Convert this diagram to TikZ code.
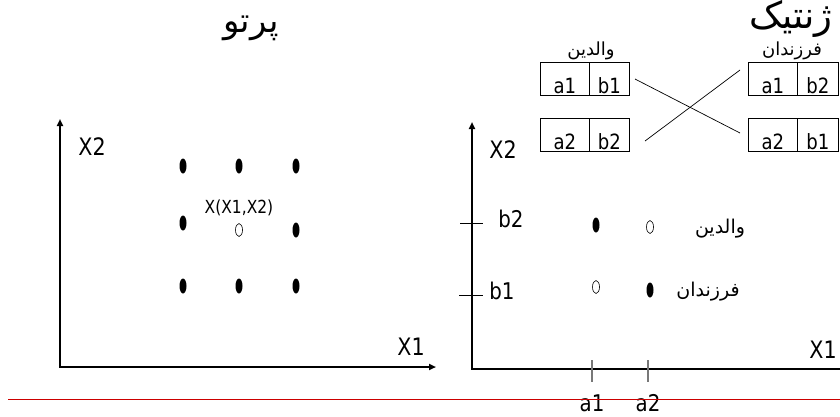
\documentclass[tikz,border=0pt]{standalone}
\usepackage{fontspec}
\setmainfont{DejaVu Sans}[FakeStretch=0.86]
\newfontfamily\arabicfont[Script=Arabic]{DejaVu Sans}
\TeXXeTstate=1
\usetikzlibrary{arrows.meta,shapes.geometric}
\definecolor{redline}{RGB}{204,0,0}
\definecolor{tickgray}{RGB}{120,120,120}
\tikzset{
  axisline/.style={line width=2pt, line join=miter, {Triangle[length=7pt,width=6pt]}-{Triangle[length=7pt,width=6pt]}},
  dotf/.style={ellipse, fill=black, minimum width=7pt, minimum height=15pt, inner sep=0pt},
  doto/.style={ellipse, draw=black, line width=0.6pt, minimum width=7pt, minimum height=13pt, inner sep=0pt},
  lbl/.style={font=\fontsize{24}{28}\selectfont, inner sep=0pt},
  ticklbl/.style={font=\fontsize{23}{26}\selectfont, inner sep=0pt},
  cell/.style={draw, line width=0.8pt, inner xsep=0pt, inner ysep=2pt, text height=29pt, text depth=0pt, font=\fontsize{21}{24}\selectfont},
  artitle/.style={font=\arabicfont\fontsize{34}{38}\selectfont, inner sep=0pt},
  arsmall/.style={font=\arabicfont\fontsize{18}{20}\selectfont, inner sep=0pt},
  armid/.style={font=\arabicfont\fontsize{19}{22}\selectfont, inner sep=0pt},
  thin/.style={line width=0.7pt},
}
\begin{document}
\begin{tikzpicture}[x=1pt,y=-1pt]
\clip (0,0) rectangle (840,416);
\fill[white] (0,0) rectangle (840,416);

% titles
\node[artitle] (t1) at (251,28) {\beginR پرتو\endR};
\node[font=\arabicfont\fontsize{37}{40}\selectfont, inner sep=0pt] (t2) at (791,19) {\beginR ژنتیک\endR};

% left axes
\coordinate (ly) at (60,119);
\coordinate (lo) at (60,367);
\coordinate (lx) at (436,367);
\draw[axisline] (ly) -- (lo) -- (lx);
\node[lbl] (lx2) at (92,147) {X2};
\node[lbl] (lx1) at (411,347) {X1};

% left dots
\node[dotf] (d11) at (183,166) {};
\node[dotf] (d12) at (239,166) {};
\node[dotf] (d13) at (296,166) {};
\node[dotf] (d21) at (183,223) {};
\node[doto] (d22) at (239,230) {};
\node[dotf] (d23) at (296,230) {};
\node[dotf] (d31) at (183,286) {};
\node[dotf] (d32) at (239,286) {};
\node[dotf] (d33) at (296,286) {};
\node[font=\fontsize{18}{20}\selectfont, inner sep=0pt] (xx) at (239,208) {X(X1,X2)};

% right axes
\coordinate (ry) at (472,122);
\coordinate (ro) at (472,369);
\coordinate (rx) at (850,369);
\draw[axisline] (ry) -- (ro) -- (rx);
\node[lbl] (rx2) at (503,150) {X2};
\node[lbl] (rx1) at (823,350) {X1};

% y ticks
\coordinate (tb2a) at (460,223); \coordinate (tb2b) at (483,223);
\coordinate (tb1a) at (459,295); \coordinate (tb1b) at (483,295);
\draw[thin] (tb2a) -- (tb2b);
\draw[thin] (tb1a) -- (tb1b);
\node[ticklbl] (lb2) at (511,219) {b2};
\node[ticklbl] (lb1) at (502,291) {b1};

% x ticks
\coordinate (ta1a) at (592,360); \coordinate (ta1b) at (592,382);
\coordinate (ta2a) at (648,360); \coordinate (ta2b) at (648,382);
\draw[tickgray, line width=1.3pt] (ta1a) -- (ta1b);
\draw[tickgray, line width=1.3pt] (ta2a) -- (ta2b);
\node[ticklbl] (la1) at (592,403) {a1};
\node[ticklbl] (la2) at (648,403) {a2};

% right dots
\node[dotf] (p11) at (596,225) {};
\node[doto] (p12) at (650,227) {};
\node[doto] (p21) at (596,287) {};
\node[dotf] (p22) at (650,290) {};
\node[armid] (rv) at (720,229) {\beginR والدین\endR};
\node[armid] (rf) at (708,292) {\beginR فرزندان\endR};

% boxes: parents
\node[cell, minimum width=49pt, anchor=north west] (pa1) at (540,62) {a1};
\node[cell, minimum width=40pt, anchor=north west] (pb1) at (589,62) {b1};
\node[cell, minimum width=49pt, anchor=north west] (pa2) at (540,118) {a2};
\node[cell, minimum width=40pt, anchor=north west] (pb2) at (589,118) {b2};
% boxes: children
\node[cell, minimum width=49pt, anchor=north west] (ca1) at (748,62) {a1};
\node[cell, minimum width=41pt, anchor=north west] (cb2) at (797,62) {b2};
\node[cell, minimum width=49pt, anchor=north west] (ca2) at (748,118) {a2};
\node[cell, minimum width=41pt, anchor=north west] (cb1) at (797,118) {b1};

\node[arsmall] (lv) at (591,51) {\beginR والدین\endR};
\node[arsmall] (lf) at (792,51) {\beginR فرزندان\endR};

% crossing lines
\coordinate (x1s) at (635,79);
\coordinate (x1e) at (740,133);
\coordinate (x2s) at (645,141);
\coordinate (x2e) at (740,70);
\draw[thin] (x1s) -- (x1e);
\draw[thin] (x2s) -- (x2e);

% red rule
\coordinate (r1) at (8,399);
\coordinate (r2) at (840,399);
\draw[redline, line width=1pt] (r1) -- (r2);
\end{tikzpicture}
\end{document}
